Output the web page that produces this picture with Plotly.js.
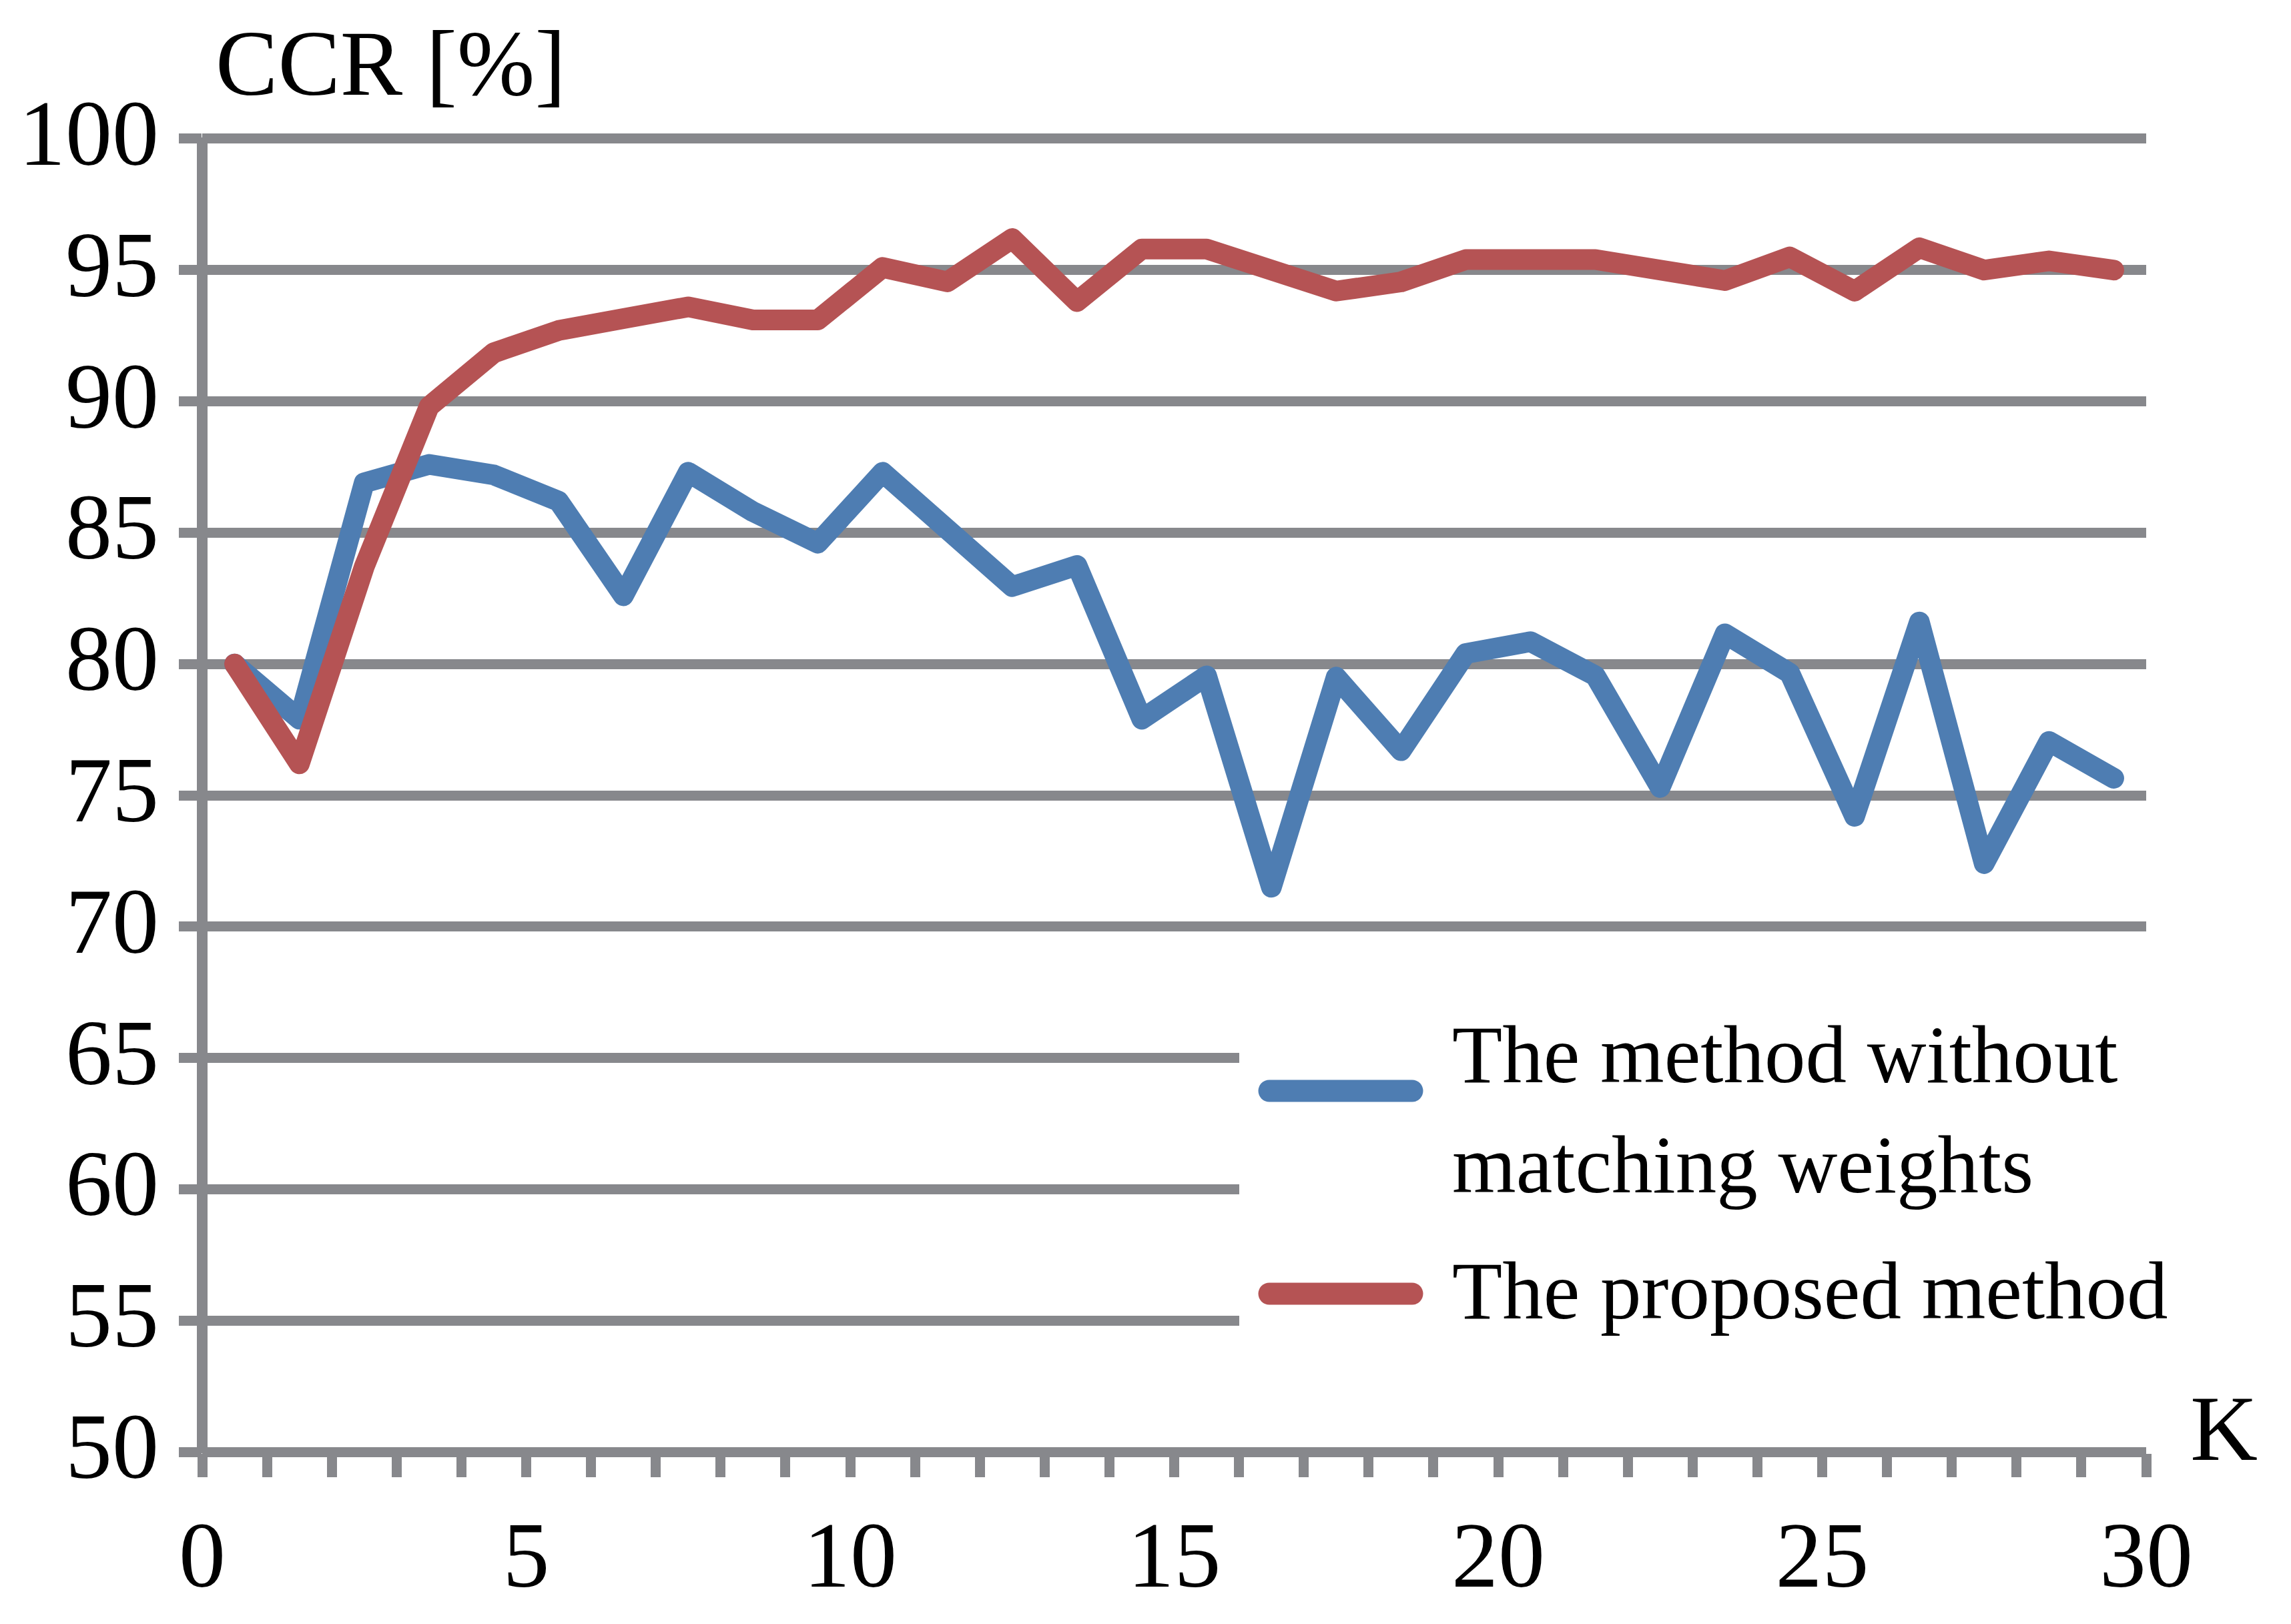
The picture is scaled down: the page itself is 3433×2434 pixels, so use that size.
<!DOCTYPE html>
<html>
<head>
<meta charset="utf-8">
<script src="https://cdn.plot.ly/plotly-3.0.1.min.js"></script>
<style>
html,body{margin:0;padding:0;background:#ffffff;}
#chart{width:3433px;height:2434px;}
.scatterlayer .js-line{stroke-linejoin:round;stroke-linecap:round;}
.shapelayer path{stroke-linecap:round;}
</style>
</head>
<body>
<div id="chart"></div>
<script>
// ---- data ----
const K = [1,2,3,4,5,6,7,8,9,10,11,12,13,14,15,16,17,18,19,20,21,22,23,24,25,26,27,28,29,30];
const withoutWeights = [80.0,77.9,86.9,87.6,87.2,86.2,82.6,87.3,85.8,84.6,87.3,85.1,82.95,83.75,77.9,79.55,71.5,79.5,76.7,80.4,80.85,79.55,75.3,81.15,79.65,74.2,81.6,72.4,77.05,75.65];
const proposed = [80.0,76.2,83.7,89.8,91.85,92.7,93.15,93.6,93.1,93.1,95.1,94.55,96.2,93.8,95.8,95.8,95.0,94.2,94.55,95.4,95.4,95.4,95.0,94.6,95.5,94.2,95.85,95.0,95.35,95.0];
const seriesNames = ["The method without matching weights", "The proposed method"];
const legendLines = [["The method without", "matching weights"], ["The proposed method"]];
const xTickVals = [0,5,10,15,20,25,30];
const yTickVals = [50,55,60,65,70,75,80,85,90,95,100];
const yTitle = "CCR [%]";
const xTitle = "K";

// ---- style ----
const BLUE = "#4e7db2";
const RED = "#b55354";
const GRAY = "#87888c";
const FONT = "Liberation Serif, Times New Roman, serif";

// plot area in pixels
const W = 3433, H = 2434;
const L = 303, R = 3216, T = 206, B = 2178;
const fx = px => (px - L) / (R - L);
const fy = py => (B - py) / (B - T);

// points sit in the middle of each K bin
const xPos = K.map(k => k - 0.5);

const traces = [
  {x: xPos, y: withoutWeights, name: seriesNames[0], type: "scatter", mode: "lines",
   line: {color: BLUE, width: 31}},
  {x: xPos, y: proposed, name: seriesNames[1], type: "scatter", mode: "lines",
   line: {color: RED, width: 31}}
];

const legendFont = {family: FONT, size: 123, color: "#000"};
const annotations = [
  {text: yTitle, xref: "paper", yref: "paper", x: fx(321), y: fy(95), xanchor: "left", yanchor: "middle",
   showarrow: false, font: {family: FONT, size: 140, color: "#000"}},
  {text: xTitle, xref: "paper", yref: "paper", x: fx(3280), y: fy(2140), xanchor: "left", yanchor: "middle",
   showarrow: false, font: {family: FONT, size: 140, color: "#000"}},
  {text: legendLines[0][0], xref: "paper", yref: "paper", x: fx(2174), y: fy(1580), xanchor: "left", yanchor: "middle",
   showarrow: false, font: legendFont},
  {text: legendLines[0][1], xref: "paper", yref: "paper", x: fx(2174), y: fy(1745), xanchor: "left", yanchor: "middle",
   showarrow: false, font: legendFont},
  {text: legendLines[1][0], xref: "paper", yref: "paper", x: fx(2174), y: fy(1934), xanchor: "left", yanchor: "middle",
   showarrow: false, font: legendFont}
];

const shapes = [
  // legend background (cuts the lower gridlines)
  {type: "rect", layer: "above", xref: "paper", yref: "y", x0: fx(1857), x1: fx(3350), y0: 51.2, y1: 68.6,
   fillcolor: "#ffffff", line: {width: 0}},
  // legend keys
  {type: "line", layer: "above", xref: "paper", yref: "paper", x0: fx(1902), x1: fx(2116), y0: fy(1635), y1: fy(1635),
   line: {color: BLUE, width: 33}},
  {type: "line", layer: "above", xref: "paper", yref: "paper", x0: fx(1902), x1: fx(2116), y0: fy(1939), y1: fy(1939),
   line: {color: RED, width: 33}}
];

const layout = {
  width: W, height: H,
  margin: {l: L, r: W - R, t: T, b: H - B, pad: 0},
  paper_bgcolor: "#ffffff", plot_bgcolor: "#ffffff",
  showlegend: false,
  font: {family: FONT, size: 140, color: "#000"},
  xaxis: {
    range: [0, 30], tickmode: "array", tickvals: xTickVals, ticktext: xTickVals.map(String),
    showgrid: false, zeroline: true, zerolinecolor: GRAY, zerolinewidth: 16,
    showline: false, ticks: "outside", ticklen: 35, tickwidth: 15, tickcolor: GRAY,
    minor: {dtick: 1, tick0: 0, ticks: "outside", ticklen: 35, tickwidth: 15, tickcolor: GRAY, showgrid: false},
    tickfont: {family: FONT, size: 140, color: "#000"}, ticklabelstandoff: -4,
    fixedrange: true
  },
  yaxis: {
    range: [49.95, 100.05], tickmode: "array", tickvals: yTickVals, ticktext: yTickVals.map(String),
    showgrid: true, gridcolor: GRAY, gridwidth: 15, zeroline: false, showline: false,
    ticks: "outside", ticklen: 34, tickwidth: 15, tickcolor: GRAY,
    tickfont: {family: FONT, size: 140, color: "#000"}, ticklabelstandoff: 2, ticklabelshift: -10,
    fixedrange: true
  },
  annotations: annotations,
  shapes: shapes
};

Plotly.newPlot("chart", traces, layout, {displayModeBar: false, staticPlot: true});
</script>
</body>
</html>
